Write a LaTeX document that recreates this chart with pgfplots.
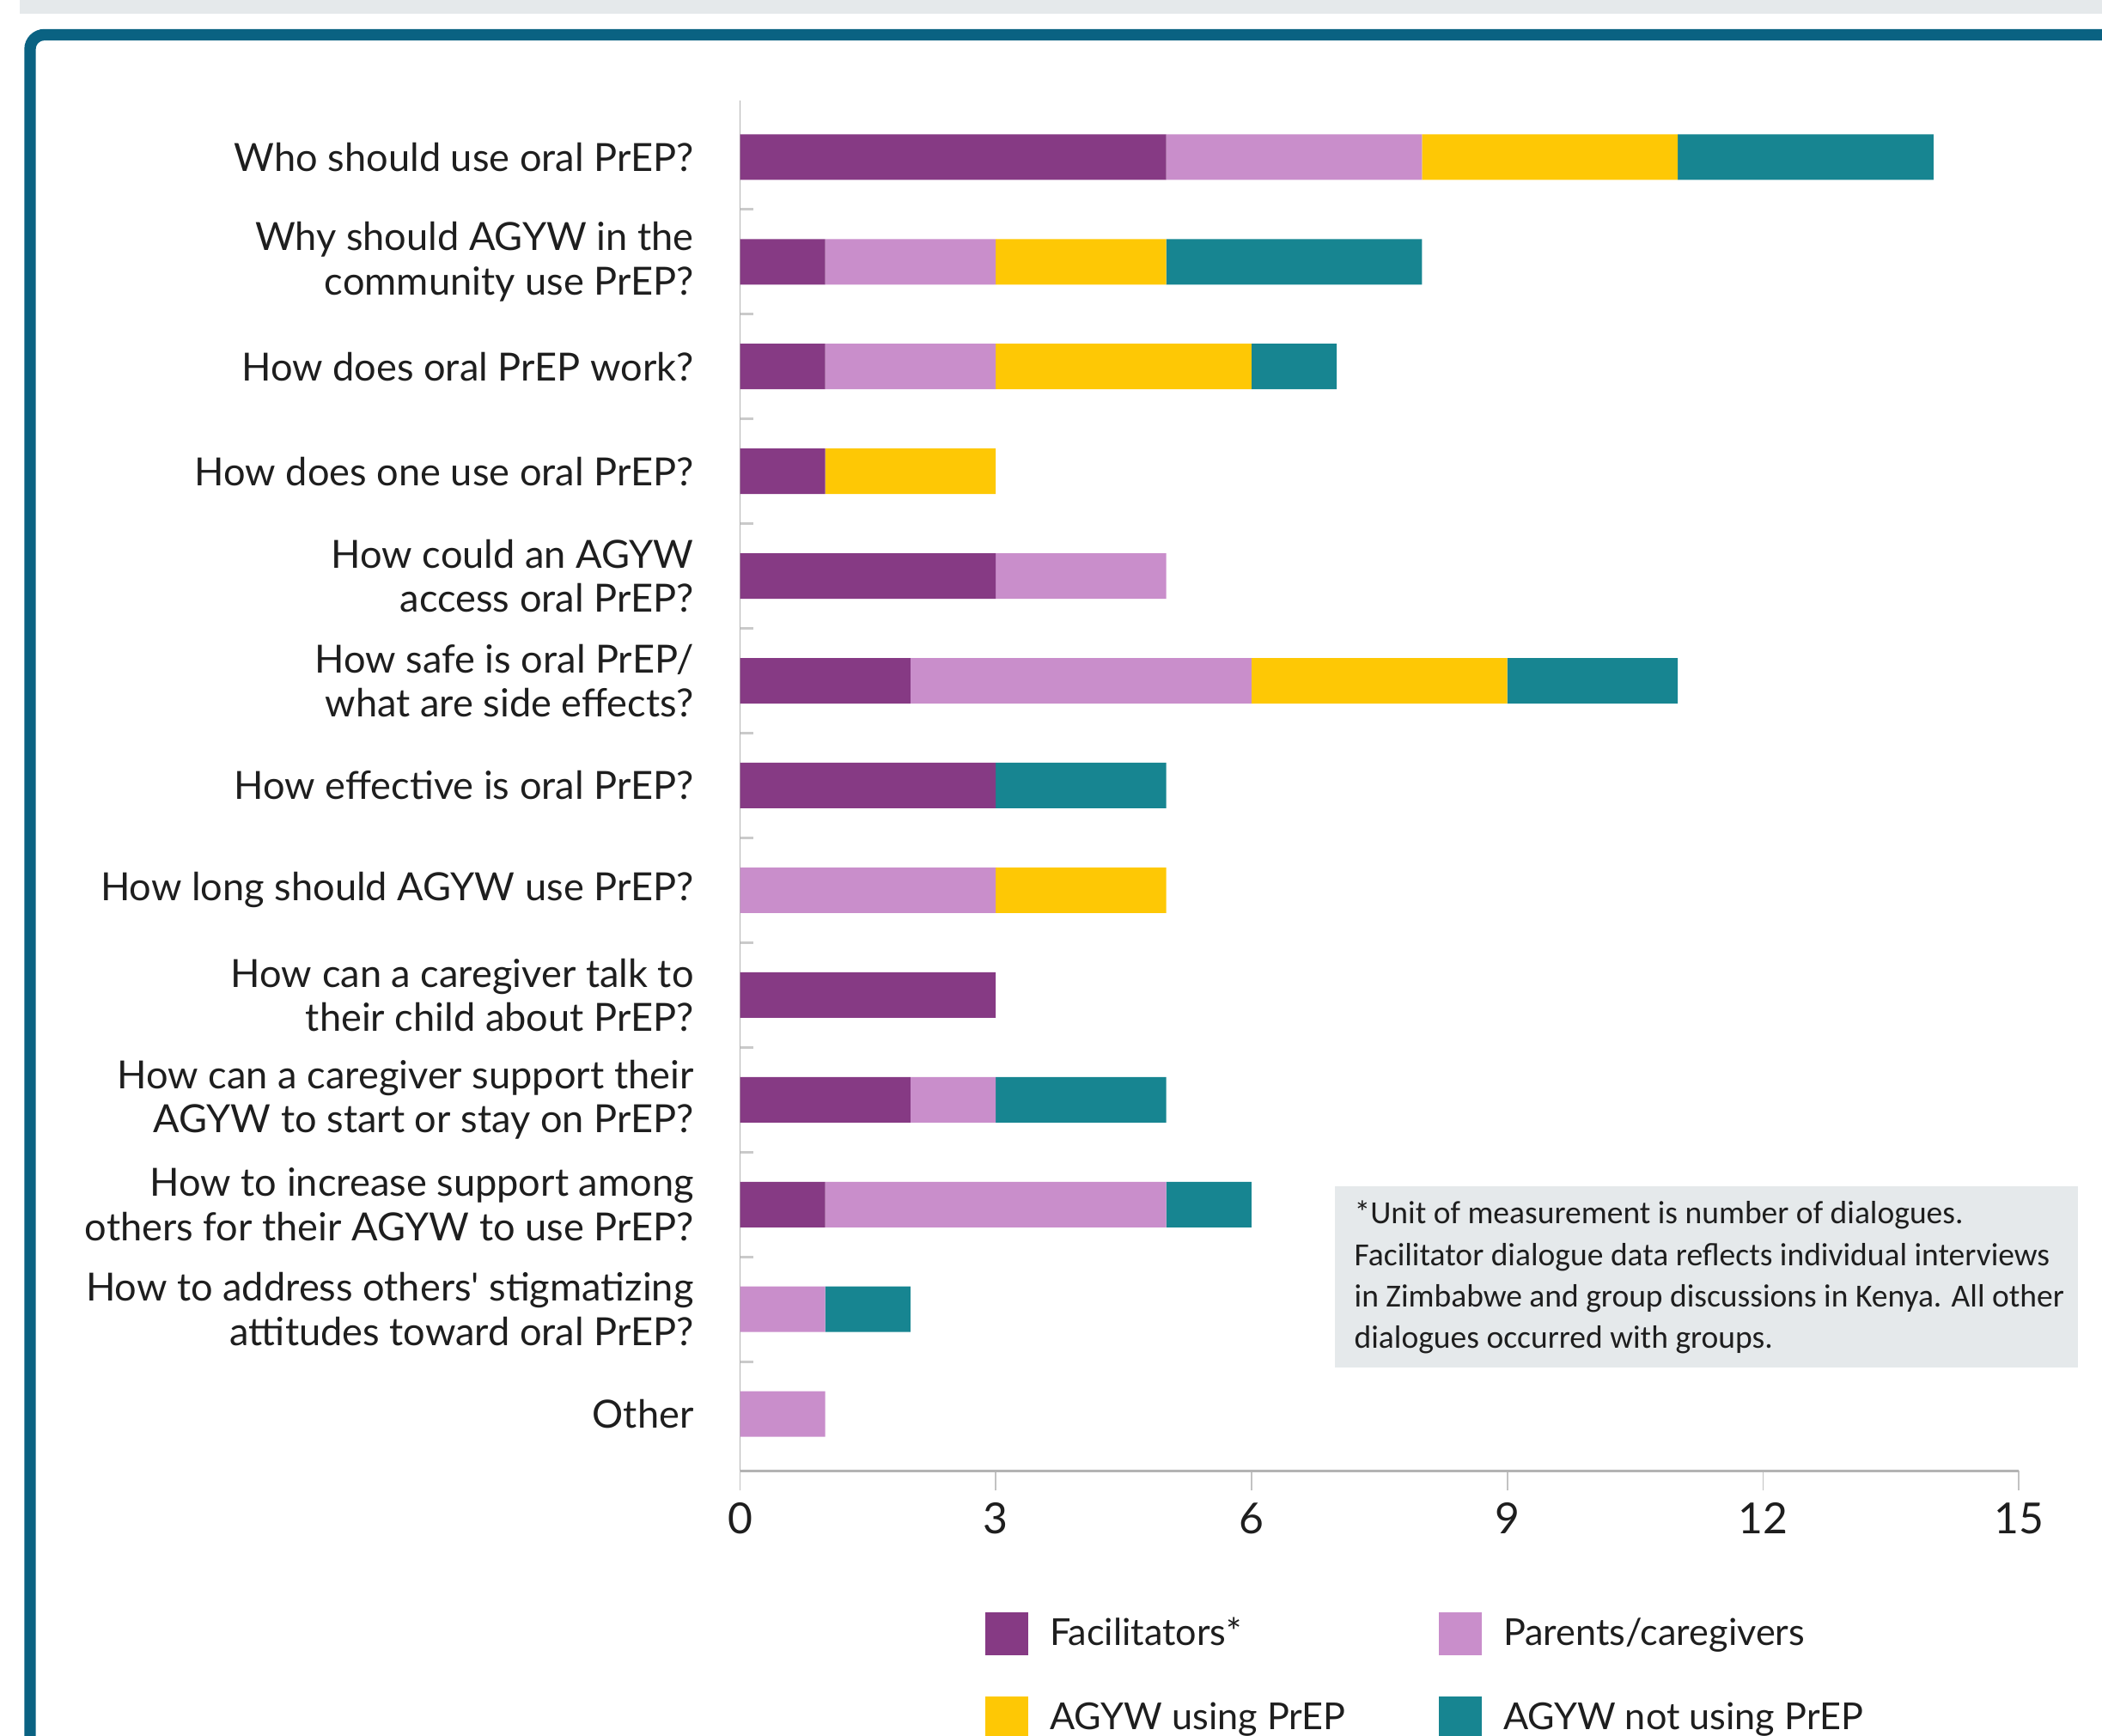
\documentclass[border=0pt]{standalone}
\usepackage{pgfplots}
\usepackage{pgfplotstable}
\pgfplotsset{compat=1.18}
\usepackage{fontspec}
\setmainfont{Lato}
\newfontfamily\notefont{Carlito}
\definecolor{fac}{HTML}{863A84}
\definecolor{par}{HTML}{C98ECB}
\definecolor{use}{HTML}{FEC805}
\definecolor{nonuse}{HTML}{178591}
\definecolor{frame}{HTML}{0A6282}
\definecolor{strip}{HTML}{E5E9EB}
\definecolor{axgray}{HTML}{B3B3B3}
\definecolor{txt}{HTML}{1E1E1E}
\pgfplotstableread{
y fac par use nonuse
12 5 3 3 3
11 1 2 2 3
10 1 2 3 1
9 1 0 2 0
8 3 2 0 0
7 2 4 3 2
6 3 0 0 2
5 0 3 2 0
4 3 0 0 0
3 2 1 0 2
2 1 4 0 1
1 0 1 0 1
0 0 1 0 0
}\datatable
\begin{document}
\begin{tikzpicture}
\useasboundingbox (0,0) rectangle (734.1bp,606.3bp);
\clip (0,0) rectangle (734.1bp,606.3bp);
\fill[strip] (6.9bp,601.5bp) rectangle (740bp,610bp);
\draw[frame, line width=4bp, rounded corners=5bp] (10.5bp,-10bp) -- (10.5bp,594.15bp) -- (745bp,594.15bp);
\begin{axis}[
  at={(258.45bp,92.7bp)}, anchor=south west,
  scale only axis, width=446.6bp, height=478.5bp,
  xbar stacked, bar width=15.9bp,
  xmin=0, xmax=15, ymin=-0.54, ymax=12.54,
  axis x line=bottom, axis y line=left,
  x axis line style={-, draw=axgray, line width=0.9bp},
  y axis line style={-, draw=axgray, line width=0.5bp},
  xtick={0,3,6,9,12,15},
  ytick={0,...,12},
  minor ytick={0.5,1.5,...,11.5},
  tick align=outside,
  major tick length=7bp, minor tick length=4.5bp,
  x tick style={draw=axgray!80, line width=0.5bp},
  major y tick style={draw=none},
  minor y tick style={draw=axgray!70, line width=0.8bp, xshift=4.5bp},
  yticklabels={
    Other,
    {How to address others\textquotesingle{} stigmatizing\\attitudes toward oral PrEP?},
    {How to increase support among\\others for their AGYW to use PrEP?},
    {How can a caregiver support their\\AGYW to start or stay on PrEP?},
    {How can a caregiver talk to\\their child about PrEP?},
    {How long should AGYW use PrEP?},
    {How effective is oral PrEP?},
    {How safe is oral PrEP/\\what are side effects?},
    {How could an AGYW\\access oral PrEP?},
    {How does one use oral PrEP?},
    {How does oral PrEP work?},
    {Why should AGYW in the\\community use PrEP?},
    {Who should use oral PrEP?}},
  yticklabel style={align=right, font=\fontsize{13.6}{15.5}\selectfont, text=txt, inner sep=0pt, xshift=-9bp},
  xticklabel style={font=\fontsize{15}{18}\selectfont, text=txt, inner sep=0pt, yshift=-4bp},
  /pgf/number format/assume math mode=true,
  legend columns=2,
  legend cell align=left,
  legend image code/.code={\fill[#1] (0bp,-7.5bp) rectangle (15bp,7.5bp);},
  legend style={at={(0.1916,-0.1028)}, anchor=north west, draw=none, fill=none,
    inner sep=0pt, row sep=14.3bp,
    font=\fontsize{13}{15.3}\selectfont, text=txt,
    /tikz/every odd column/.append style={column sep=5.5bp},
    /tikz/every even column/.append style={column sep=30.5bp}},
]
\addplot[fill=fac, draw=none] table[x=fac, y=y] {\datatable};
\addplot[fill=par, draw=none] table[x=par, y=y] {\datatable};
\addplot[fill=use, draw=none] table[x=use, y=y] {\datatable};
\addplot[fill=nonuse, draw=none] table[x=nonuse, y=y] {\datatable};
\legend{Facilitators*, Parents/caregivers, AGYW using PrEP, AGYW not using PrEP}
\end{axis}
\fill[strip] (466.2bp,128.7bp) rectangle (725.7bp,192bp);
\node[anchor=west, align=left, inner sep=0pt, text=txt, font=\notefont\fontsize{11.3}{14.5}\selectfont] at (472.8bp,160.2bp)
  {*Unit of measurement is number of dialogues.\\
   Facilitator dialogue data reflects individual interviews\\
   in Zimbabwe and group discussions in Kenya. All other\\
   dialogues occurred with groups.};
\end{tikzpicture}
\end{document}
